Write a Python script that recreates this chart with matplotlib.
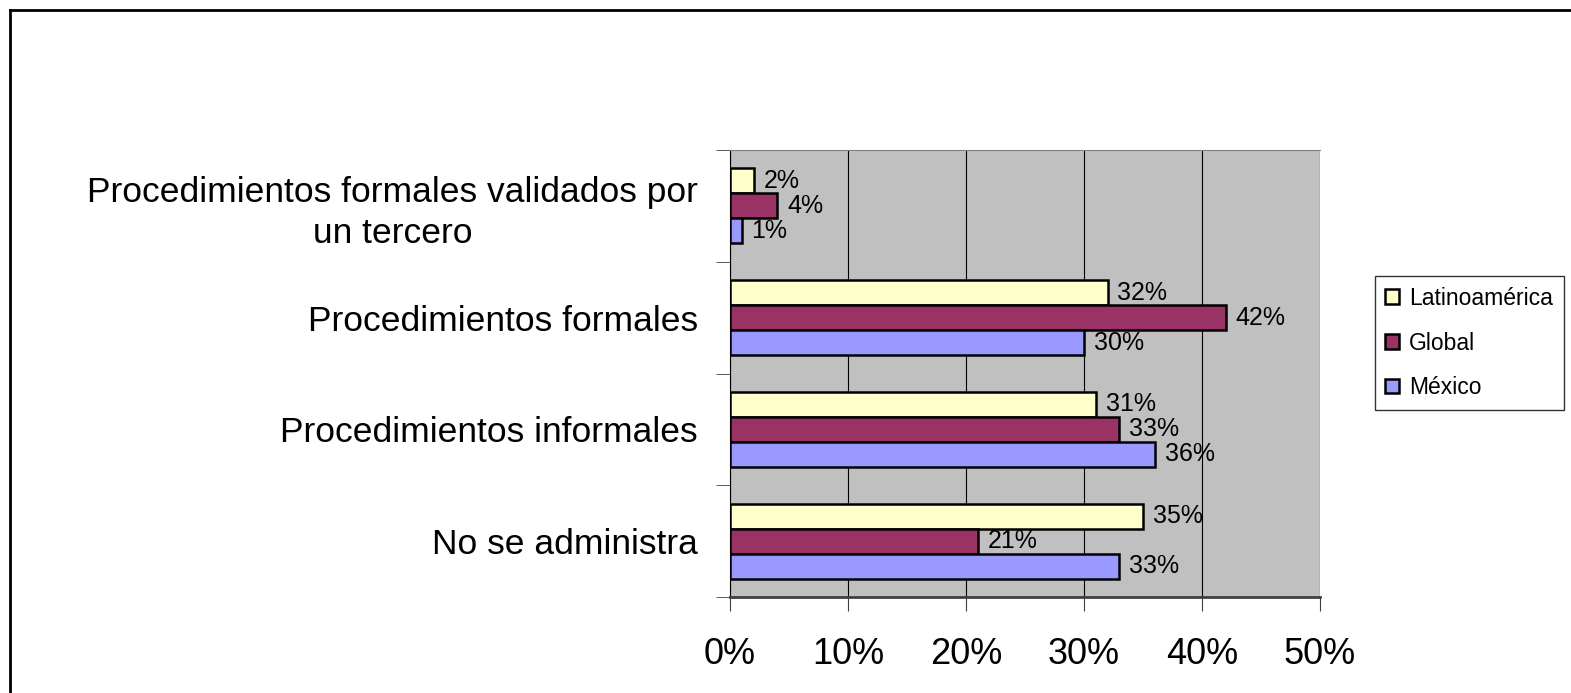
import numpy as np
import matplotlib.pyplot as plt
from matplotlib.lines import Line2D
from matplotlib.ticker import PercentFormatter

plt.rcParams['font.family'] = ['Liberation Sans', 'DejaVu Sans']

# datos (de abajo hacia arriba)
categorias = ["No se administra", "Procedimientos informales", "Procedimientos formales",
              "Procedimientos formales validados por\nun tercero"]
latinoamerica = [35, 31, 32, 2]
global_ = [21, 33, 42, 4]
mexico = [33, 36, 30, 1]
series = ["Latinoamérica", "Global", "México"]
colores = ["#FFFFCC", "#993366", "#9999FF"]

fig = plt.figure(figsize=(15.71, 6.93), dpi=100)
ax = fig.add_axes([730 / 1571, 1 - 597 / 693, 590 / 1571, 447 / 693])
ax.set_facecolor("#C0C0C0")

y = np.arange(len(categorias))
h = 0.224
for i, (nombre, vals, c) in enumerate(zip(series, [latinoamerica, global_, mexico], colores)):
    pos = y + h * (1 - i)
    ax.barh(pos, vals, height=h, color=c, edgecolor="black", linewidth=1.8, label=nombre, zorder=3)
    for p, v in zip(pos, vals):
        ax.annotate(f"{v}%", (v, p), xytext=(7, 0), textcoords="offset points",
                    va="center", ha="left", fontsize=18, zorder=4)

ax.set_xlim(0, 50)
ax.set_ylim(-0.5, 3.5)
ax.set_xticks(np.arange(0, 51, 10))
ax.xaxis.set_major_formatter(PercentFormatter(decimals=0))
ax.grid(axis="x", color="black", linewidth=0.8, zorder=1)

ax.set_yticks(y)
ax.set_yticklabels(categorias, multialignment="center", linespacing=1.3)
ax.set_yticks(np.arange(-0.5, 4, 1), minor=True)
ax.tick_params(axis="y", which="major", length=0, pad=23, labelsize=25.5)
ax.tick_params(axis="y", which="minor", length=10, color="#404040")
ax.tick_params(axis="x", length=10, pad=19, labelsize=26, color="#404040")

ax.spines["top"].set_color("#808080")
ax.spines["right"].set_visible(False)
ax.spines["left"].set_color("black")
ax.spines["bottom"].set_color("#404040")
ax.spines["bottom"].set_linewidth(2)

leg = fig.legend(loc="center left", bbox_to_anchor=(1375 / 1571, 1 - 343 / 693),
                 fontsize=16.5, frameon=True, fancybox=False, edgecolor="black",
                 handlelength=0.6, handleheight=0.6, handletextpad=0.45,
                 labelspacing=0.95, borderpad=0.45, borderaxespad=0)
leg.get_frame().set_linewidth(1)

# marco de la figura (solo arriba e izquierda visibles)
x0, y0 = 10 / 1571, 1 - 10 / 693
fig.lines.append(Line2D([x0, 1.0], [y0, y0], transform=fig.transFigure, color="black", linewidth=2))
fig.lines.append(Line2D([x0, x0], [0.0, y0], transform=fig.transFigure, color="black", linewidth=2))

fig.savefig("out.png", dpi=100)
